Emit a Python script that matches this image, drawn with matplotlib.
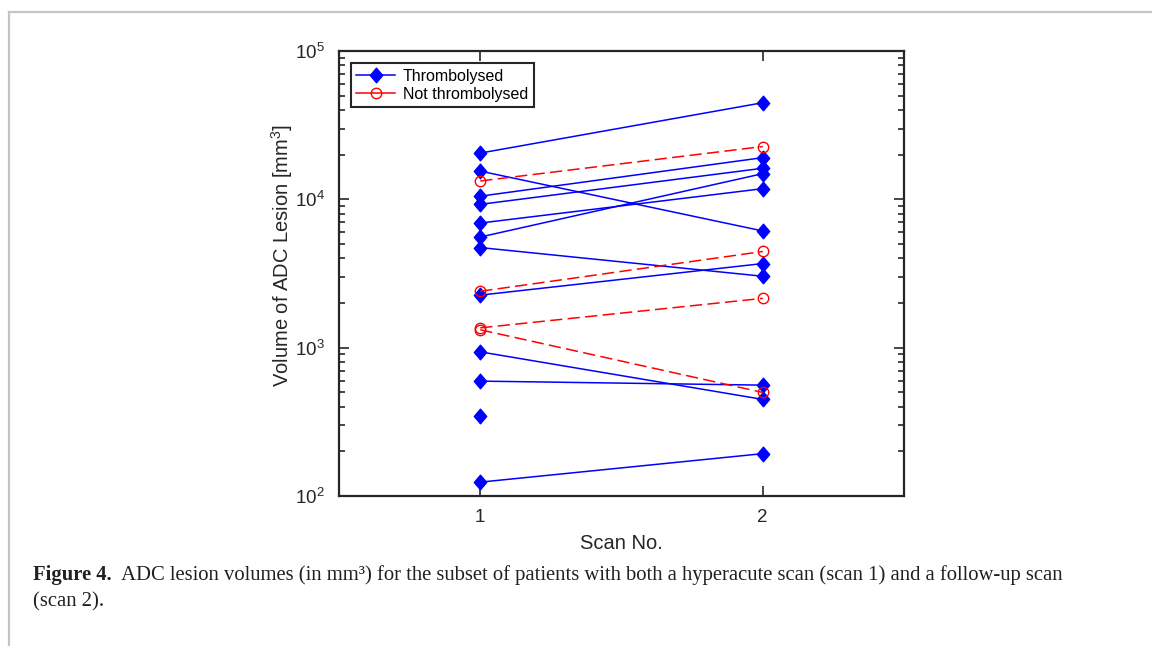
import numpy as np
import matplotlib
matplotlib.use("Agg")
import matplotlib.pyplot as plt
from matplotlib.lines import Line2D
from matplotlib.path import Path

plt.rcParams['font.family'] = ['Liberation Sans', 'DejaVu Sans']
plt.rcParams['mathtext.fontset'] = 'custom'
plt.rcParams['mathtext.rm'] = 'Liberation Sans'
plt.rcParams['mathtext.it'] = 'Liberation Sans:italic'

# ADC lesion volumes (mm^3), scan 1 and scan 2
scans = [1, 2]
thromb_scan1 = [20500, 15500, 10500, 9250, 6920, 5570, 4730, 2260, 937, 595, 347, 124]
thromb_scan2 = [44800, 6120, 19100, 16200, 11800, 14900, 3030, 3690, 448, 559, np.nan, 193]
notthromb_scan1 = [13300, 2400, 1360, 1320]
notthromb_scan2 = [22700, 4450, 2150, 499]

axis_col = '#262626'
# slightly tall diamond like MATLAB's
diamond = Path([(0, 1), (0.85, 0), (0, -1), (-0.85, 0), (0, 1)],
               [Path.MOVETO, Path.LINETO, Path.LINETO, Path.LINETO, Path.CLOSEPOLY])

fig = plt.figure(figsize=(11.52, 6.46), dpi=100)
ax = fig.add_axes([339 / 1152, 1 - 496 / 646, 565 / 1152, 445 / 646])

for v1, v2 in zip(thromb_scan1, thromb_scan2):
    ax.plot(scans, [v1, v2], color='b', lw=1.1, marker=diamond, ms=10.5,
            markerfacecolor='b', markeredgecolor='b')
for v1, v2 in zip(notthromb_scan1, notthromb_scan2):
    ax.plot(scans, [v1, v2], color='r', lw=1.1, ls=(0, (8, 3.5)), marker='o', ms=7.5,
            markerfacecolor='none', markeredgecolor='r', markeredgewidth=1.0)

ax.set_yscale('log')
ax.set_ylim(1e2, 1e5)
ax.set_xlim(0.5, 2.5)
ax.set_xticks(scans)
ax.minorticks_on()
ax.xaxis.set_minor_locator(matplotlib.ticker.NullLocator())

ax.tick_params(which='both', direction='in', top=True, right=True, colors=axis_col,
               width=1.2)
ax.tick_params(which='major', length=7, labelsize=13.5)
ax.tick_params(which='minor', length=4)
ax.tick_params(axis='x', pad=9)
ax.tick_params(axis='y', pad=10)
for s in ax.spines.values():
    s.set_linewidth(1.6)
    s.set_color(axis_col)

ax.set_xlabel('Scan No.', fontsize=14.5, color=axis_col, labelpad=6)
ax.set_ylabel('Volume of ADC Lesion [mm$^3$]', fontsize=14.5, color=axis_col)
ax.yaxis.set_label_coords(-0.077, 0.54)

handles = [
    Line2D([], [], color='b', lw=1.1, marker=diamond, ms=10.5),
    Line2D([], [], color='r', lw=1.1, marker='o', ms=7.5, markerfacecolor='none'),
]
leg = ax.legend(handles, ['Thrombolysed', 'Not thrombolysed'], loc='upper left',
                bbox_to_anchor=(0.021, 0.973), borderaxespad=0, fontsize=11.5,
                fancybox=False, framealpha=1, edgecolor=axis_col,
                handlelength=2.4, handletextpad=0.5, borderpad=0.35,
                labelspacing=0.2)
leg.get_frame().set_linewidth(1.5)

# page border
fig.add_artist(Line2D([8.5 / 1152, 8.5 / 1152], [0, 1 - 12 / 646],
                      transform=fig.transFigure, color='#c4c4c4', lw=1.6))
fig.add_artist(Line2D([8.5 / 1152, 1], [1 - 12 / 646, 1 - 12 / 646],
                      transform=fig.transFigure, color='#c4c4c4', lw=1.6))

# caption
cap_font = ['Liberation Serif', 'DejaVu Serif']
cap_size = 14.9
t1 = fig.text(33 / 1152, 1 - 580 / 646, 'Figure 4.', fontsize=cap_size, fontweight='bold',
              family=cap_font, color='#231f20', va='baseline')
ax.annotate('  ADC lesion volumes (in mm³) for the subset of patients with both a '
            'hyperacute scan (scan 1) and a follow-up scan',
            xy=(1, 0), xycoords=t1, va='bottom', ha='left', fontsize=cap_size,
            family=cap_font, color='#231f20', annotation_clip=False)
fig.text(33 / 1152, 1 - 606 / 646, '(scan 2).', fontsize=cap_size,
         family=cap_font, color='#231f20', va='baseline')

fig.savefig('out.png', dpi=100)
